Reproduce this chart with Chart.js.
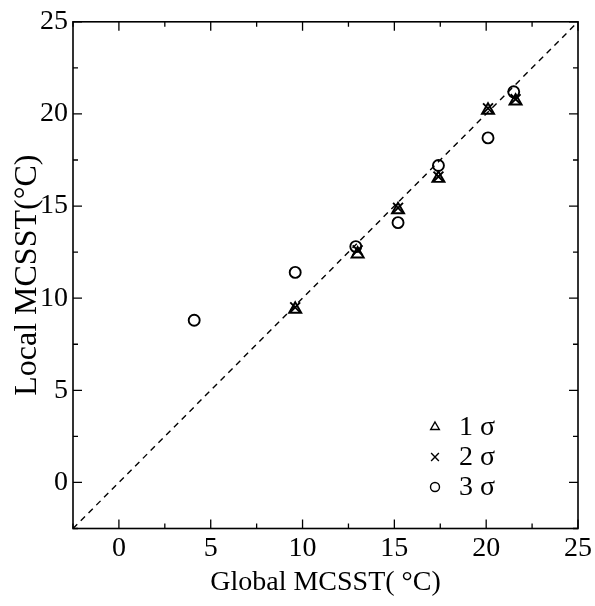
<!DOCTYPE html>
<html>
<head>
<meta charset="utf-8">
<script src="https://cdn.jsdelivr.net/npm/chart.js@4"></script>
<style>
  html, body { margin: 0; padding: 0; background: #fff; }
  #wrap { width: 595px; height: 606px; }
</style>
</head>
<body>
<div id="wrap"><canvas id="sst-chart"></canvas></div>
<script>
// Global vs local MCSST (deg C) for each sigma threshold
const globalX = [9.6, 13.0, 15.2, 17.4, 20.1, 21.6];
const sigma1Y = [9.4, 12.4, 14.8, 16.5, 20.2, 20.7];
const sigma2Y = [9.5, 12.6, 14.9, 16.6, 20.3, 20.8];
const globalX3 = [4.1, 9.6, 12.9, 15.2, 17.4, 20.1, 21.5];
const sigma3Y = [8.8, 11.4, 12.8, 14.1, 17.2, 18.7, 21.2];
const oneToOne = [-2.5, 25];
const legendLabels = ['1 σ', '2 σ', '3 σ'];

const serif = 'Liberation Serif, Times New Roman, serif';

function toPoints(xs, ys) {
  return xs.map((x, i) => ({ x: x, y: ys[i] }));
}

// inward tick marks on all four sides + closing frame
const frameTicks = {
  id: 'frameTicks',
  afterDraw(chart) {
    const ctx = chart.ctx;
    const area = chart.chartArea;
    const xs = chart.scales.x;
    const ys = chart.scales.y;
    ctx.save();
    ctx.strokeStyle = '#000';
    ctx.lineWidth = 1.6;
    ctx.strokeRect(area.left, area.top, area.right - area.left, area.bottom - area.top);
    ctx.lineWidth = 1.3;
    xs.ticks.forEach((t) => {
      const px = xs.getPixelForValue(t.value);
      const len = t.value % 5 === 0 ? 9 : 5;
      ctx.beginPath();
      ctx.moveTo(px, area.bottom); ctx.lineTo(px, area.bottom - len);
      ctx.moveTo(px, area.top); ctx.lineTo(px, area.top + len);
      ctx.stroke();
    });
    ys.ticks.forEach((t) => {
      const py = ys.getPixelForValue(t.value);
      const len = t.value % 5 === 0 ? 9 : 5;
      ctx.beginPath();
      ctx.moveTo(area.left, py); ctx.lineTo(area.left + len, py);
      ctx.moveTo(area.right, py); ctx.lineTo(area.right - len, py);
      ctx.stroke();
    });
    ctx.restore();
  }
};

// legend sitting inside the plot, lower right
const innerLegend = {
  id: 'innerLegend',
  afterDraw(chart) {
    const ctx = chart.ctx;
    const styles = ['triangle', 'crossRot', 'circle'];
    const sizes = [5, 5.5, 4.5];
    ctx.save();
    ctx.strokeStyle = '#000';
    ctx.lineWidth = 1.4;
    ctx.textBaseline = 'middle';
    legendLabels.forEach((label, i) => {
      const y = 427 + i * 30;
      ctx.fillStyle = 'rgba(0,0,0,0)';
      Chart.helpers.drawPoint(ctx, { pointStyle: styles[i], radius: sizes[i], rotation: 0, borderWidth: 1.4 }, 435, y);
      ctx.fillStyle = '#000';
      ctx.font = '28px ' + serif;
      ctx.fillText(label, 459, y + 1);
    });
    ctx.restore();
  }
};

const markerCommon = {
  type: 'scatter',
  borderColor: '#000',
  backgroundColor: 'rgba(0,0,0,0)',
  borderWidth: 1.9,
  pointRadius: 6
};

new Chart(document.getElementById('sst-chart'), {
  type: 'scatter',
  data: {
    datasets: [
      {
        type: 'line',
        label: '1:1',
        data: toPoints(oneToOne, oneToOne),
        borderColor: '#000',
        borderWidth: 1.4,
        borderDash: [6, 5],
        pointRadius: 0,
        fill: false
      },
      Object.assign({}, markerCommon, { label: '1 σ', data: toPoints(globalX, sigma1Y), pointStyle: 'triangle', pointRadius: 7 }),
      Object.assign({}, markerCommon, { label: '2 σ', data: toPoints(globalX, sigma2Y), pointStyle: 'crossRot', pointRadius: 7 }),
      Object.assign({}, markerCommon, { label: '3 σ', data: toPoints(globalX3, sigma3Y), pointStyle: 'circle', pointRadius: 5.5 })
    ]
  },
  options: {
    responsive: true,
    maintainAspectRatio: false,
    animation: false,
    layout: { padding: { top: 20, right: 14, left: 0, bottom: 0 } },
    plugins: {
      legend: { display: false },
      tooltip: { enabled: false }
    },
    scales: {
      x: {
        type: 'linear',
        min: -2.5,
        max: 25,
        grid: { display: false, drawTicks: false },
        border: { display: false },
        ticks: {
          stepSize: 2.5,
          padding: 3,
          color: '#000',
          font: { family: serif, size: 28 },
          maxRotation: 0,
          callback: (v) => (v % 5 === 0 ? v : '')
        },
        title: {
          display: true,
          text: 'Global MCSST( °C)',
          color: '#000',
          font: { family: serif, size: 28 },
          padding: { top: 0, bottom: 7 }
        },
        afterFit: (scale) => { scale.height = 77.5; }
      },
      y: {
        type: 'linear',
        min: -2.5,
        max: 25,
        grid: { display: false, drawTicks: false },
        border: { display: false },
        ticks: {
          stepSize: 2.5,
          padding: 5,
          color: '#000',
          font: { family: serif, size: 28 },
          callback: (v) => (v % 5 === 0 ? v : '')
        },
        title: {
          display: true,
          text: 'Local MCSST(°C)',
          color: '#000',
          font: { family: serif, size: 32 },
          padding: { top: 8, bottom: 0 }
        },
        afterFit: (scale) => { scale.width = 73; }
      }
    }
  },
  plugins: [frameTicks, innerLegend]
});
</script>
</body>
</html>
